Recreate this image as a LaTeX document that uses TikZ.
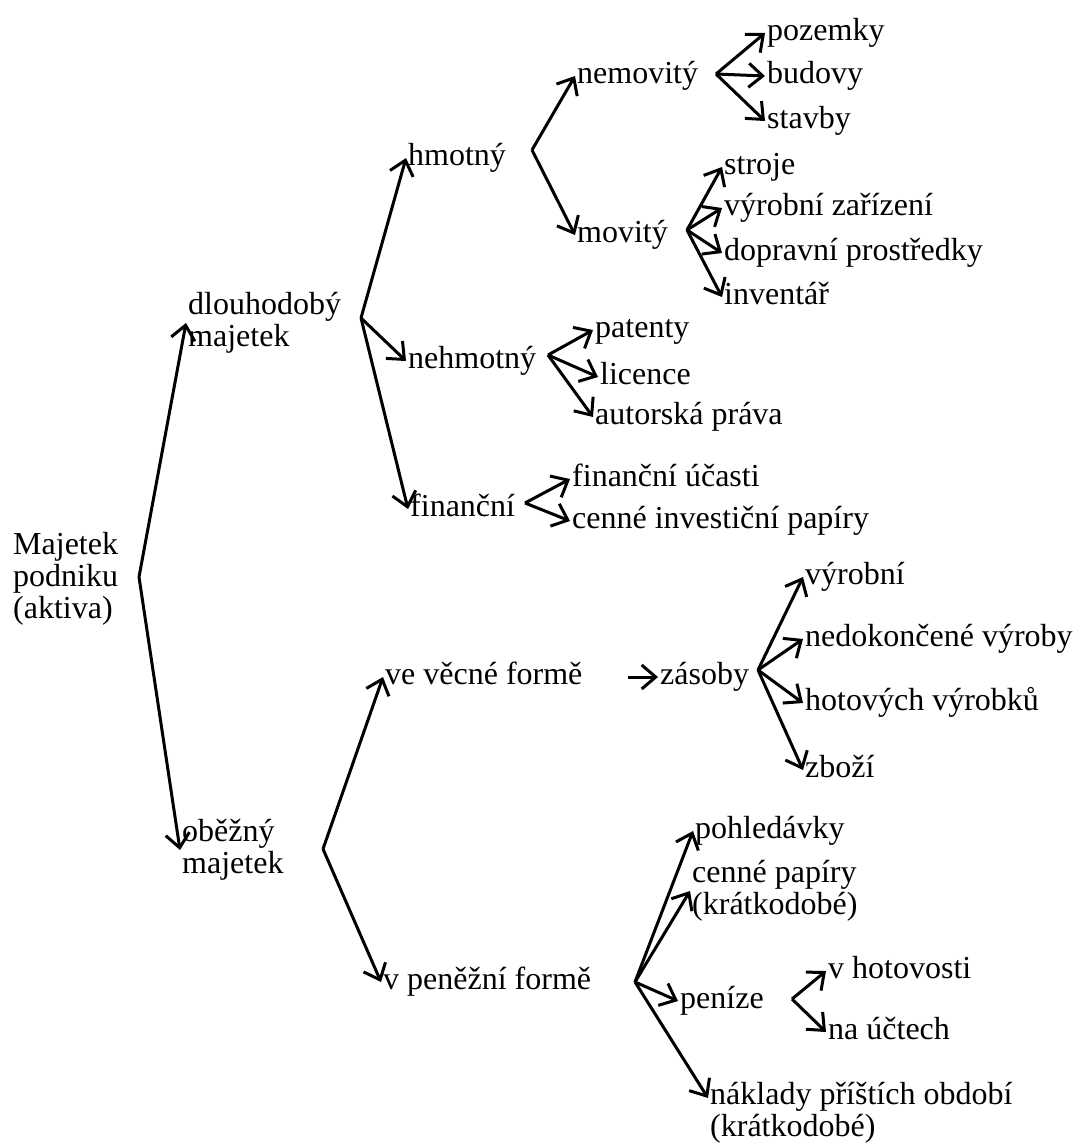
\documentclass[tikz,border=0pt]{standalone}
\usepackage{fontspec}
\setmainfont{Liberation Serif}
\newfontfamily\tmr{Liberation Serif}
\usetikzlibrary{arrows.meta}
\tikzset{
  lbl/.style={anchor=west, inner xsep=2pt, inner ysep=0pt, align=left,
    text height=22pt, text depth=7pt, font=\tmr\fontsize{32}{32}\selectfont},
  lbl2/.style={lbl, text height={}, text depth={}},
  arr/.style={-{Straight Barb[length=14pt,width=24pt]}, line width=3pt, line join=miter}
}
\begin{document}
\begin{tikzpicture}[x=1pt,y=-1pt]
  \useasboundingbox (0,0) rectangle (1075,1144);

  % root and first level
  \node[lbl2] (root) at (11,579) {Majetek\\podniku\\(aktiva)};
  \node[lbl2] (dlouh) at (186,323) {dlouhodobý\\majetek};
  \node[lbl2] (obez) at (180,850) {oběžný\\majetek};

  % dlouhodoby majetek
  \node[lbl] (hmot) at (406,158) {hmotný};
  \node[lbl] (nehmot) at (406,361) {nehmotný};
  \node[lbl] (fin) at (408,509) {finanční};
  \node[lbl] (nemov) at (575,76) {nemovitý};
  \node[lbl] (mov) at (575,235) {movitý};
  \node[lbl] (pozemky) at (765,33) {pozemky};
  \node[lbl] (budovy) at (765,76) {budovy};
  \node[lbl] (stavby) at (765,121) {stavby};
  \node[lbl] (stroje) at (722,167) {stroje};
  \node[lbl] (zariz) at (722,208) {výrobní zařízení};
  \node[lbl] (doprav) at (722,253) {dopravní prostředky};
  \node[lbl] (invent) at (722,297) {inventář};
  \node[lbl] (patenty) at (593,330) {patenty};
  \node[lbl] (licence) at (598,377) {licence};
  \node[lbl] (autor) at (593,417) {autorská práva};
  \node[lbl] (ucasti) at (570,479) {finanční účasti};
  \node[lbl] (invpap) at (570,521) {cenné investiční papíry};

  % obezny majetek
  \node[lbl] (vecna) at (383,677) {ve věcné formě};
  \node[lbl] (zasoby) at (658,677) {zásoby};
  \node[lbl] (vyrobni) at (803,577) {výrobní};
  \node[lbl] (nedok) at (803,639) {nedokončené výroby};
  \node[lbl] (hotove) at (803,703) {hotových výrobků};
  \node[lbl] (zbozi) at (803,770) {zboží};
  \node[lbl] (penezni) at (381,982) {v peněžní formě};
  \node[lbl] (pohl) at (693,831) {pohledávky};
  \node[lbl2] (cpap) at (690,891) {cenné papíry\\(krátkodobé)};
  \node[lbl] (penize) at (678,1001) {peníze};
  \node[lbl] (hotov) at (826,971) {v hotovosti};
  \node[lbl] (ucty) at (826,1032) {na účtech};
  \node[lbl2] (naklady) at (708,1113) {náklady příštích období\\(krátkodobé)};

  % fork points
  \coordinate (f0) at (139,577);
  \coordinate (f1) at (361,318);
  \coordinate (f2) at (532,150);
  \coordinate (f3) at (716,74);
  \coordinate (f4) at (687,230);
  \coordinate (f5) at (548,355);
  \coordinate (f6) at (525,503);
  \coordinate (f7) at (323,849);
  \coordinate (f8) at (758,670);
  \coordinate (f9) at (635,982);
  \coordinate (f10) at (792,999);
  \coordinate (zs) at (628,677);

  \foreach \c in {dlouh,obez} \draw[arr] (f0) -- (\c.west);
  \foreach \c in {hmot,nehmot,fin} \draw[arr] (f1) -- (\c.west);
  \foreach \c in {nemov,mov} \draw[arr] (f2) -- (\c.west);
  \foreach \c in {pozemky,budovy,stavby} \draw[arr] (f3) -- (\c.west);
  \foreach \c in {stroje,zariz,doprav,invent} \draw[arr] (f4) -- (\c.west);
  \foreach \c in {patenty,licence,autor} \draw[arr] (f5) -- (\c.west);
  \foreach \c in {ucasti,invpap} \draw[arr] (f6) -- (\c.west);
  \foreach \c in {vecna,penezni} \draw[arr] (f7) -- (\c.west);
  \draw[arr] (zs) -- (zasoby.west);
  \foreach \c in {vyrobni,nedok,hotove,zbozi} \draw[arr] (f8) -- (\c.west);
  \foreach \c in {pohl,cpap,penize} \draw[arr] (f9) -- (\c.west);
  \draw[arr] (f9) -- ([yshift=15pt]naklady.west);
  \foreach \c in {hotov,ucty} \draw[arr] (f10) -- (\c.west);
\end{tikzpicture}
\end{document}
